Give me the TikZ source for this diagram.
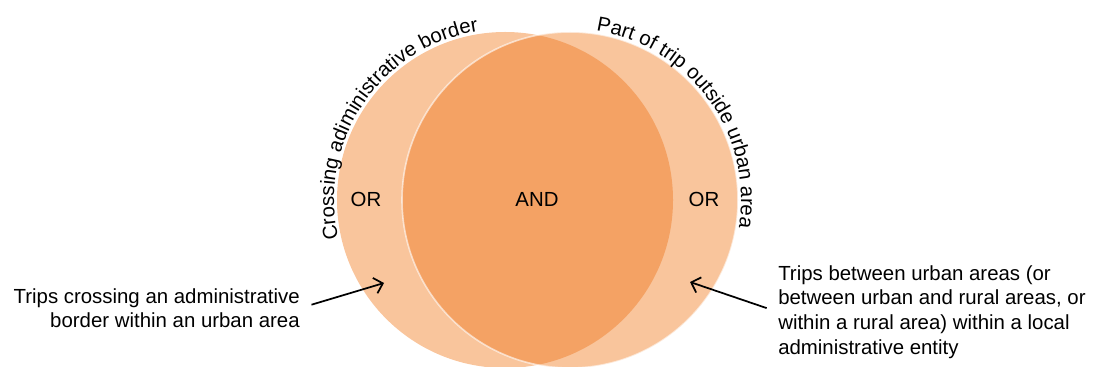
\documentclass[tikz,border=0pt]{standalone}
\usepackage{fontspec}
\setmainfont{Liberation Sans}
\usetikzlibrary{arrows.meta, decorations.text}
\definecolor{vennlight}{HTML}{F9C59C}
\definecolor{venndark}{HTML}{F4A264}

\begin{document}
\begin{tikzpicture}[x=0.75pt, y=0.75pt,
    gate/.style={font=\fontsize{15.3}{18.6}\selectfont, inner sep=0pt},
    note/.style={font=\fontsize{15.3}{18.6}\selectfont, inner sep=0pt},
    pointer/.style={-{Straight Barb[length=6pt, width=12pt]}, line width=1.3pt, shorten <=9pt}]
  \useasboundingbox (0,0) rectangle (1098,367);
  % the two sets
  \fill[vennlight] (505,167) circle[radius=168];
  \fill[vennlight] (570,167) circle[radius=168];
  \begin{scope}
    \clip (505,167) circle[radius=168];
    \fill[venndark] (570,167) circle[radius=168];
  \end{scope}
  \draw[white, opacity=0.6, line width=1.2pt] (570,167) circle[radius=168];
  % set titles along the rims
  \path[decorate, decoration={text along path, text align=center,
      text={|\fontsize{15.3}{18}\selectfont|Crossing adiministrative border}}]
    (505,167) ++(206:171) arc[start angle=206, end angle=86, radius=171];
  \path[decorate, decoration={text along path, text align=center,
      text={|\fontsize{15.3}{18}\selectfont|Part of trip outside urban area}}]
    (570,167) ++(96:171) arc[start angle=96, end angle=-24, radius=171];
  % region labels
  \foreach \x/\n in {366/orleft, 704/orright}
    \node[gate] (\n) at (\x,168) {OR};
  \node[gate] (and) at (537,168) {AND};
  % notes and pointers
  \node[note, align=right, anchor=north east] (leftnote) at (300,79)
    {Trips crossing an administrative\\border within an urban area};
  \node[note, align=left, anchor=north west] (rightnote) at (778,102)
    {Trips between urban areas (or\\between urban and rural areas, or\\within a rural area) within a local\\administrative entity};
  \coordinate (lefttip) at (384,84);
  \coordinate (righttip) at (690,85);
  \draw[pointer] (leftnote.east) -- (lefttip);
  \draw[pointer] (rightnote.west) -- (righttip);
\end{tikzpicture}
\end{document}
